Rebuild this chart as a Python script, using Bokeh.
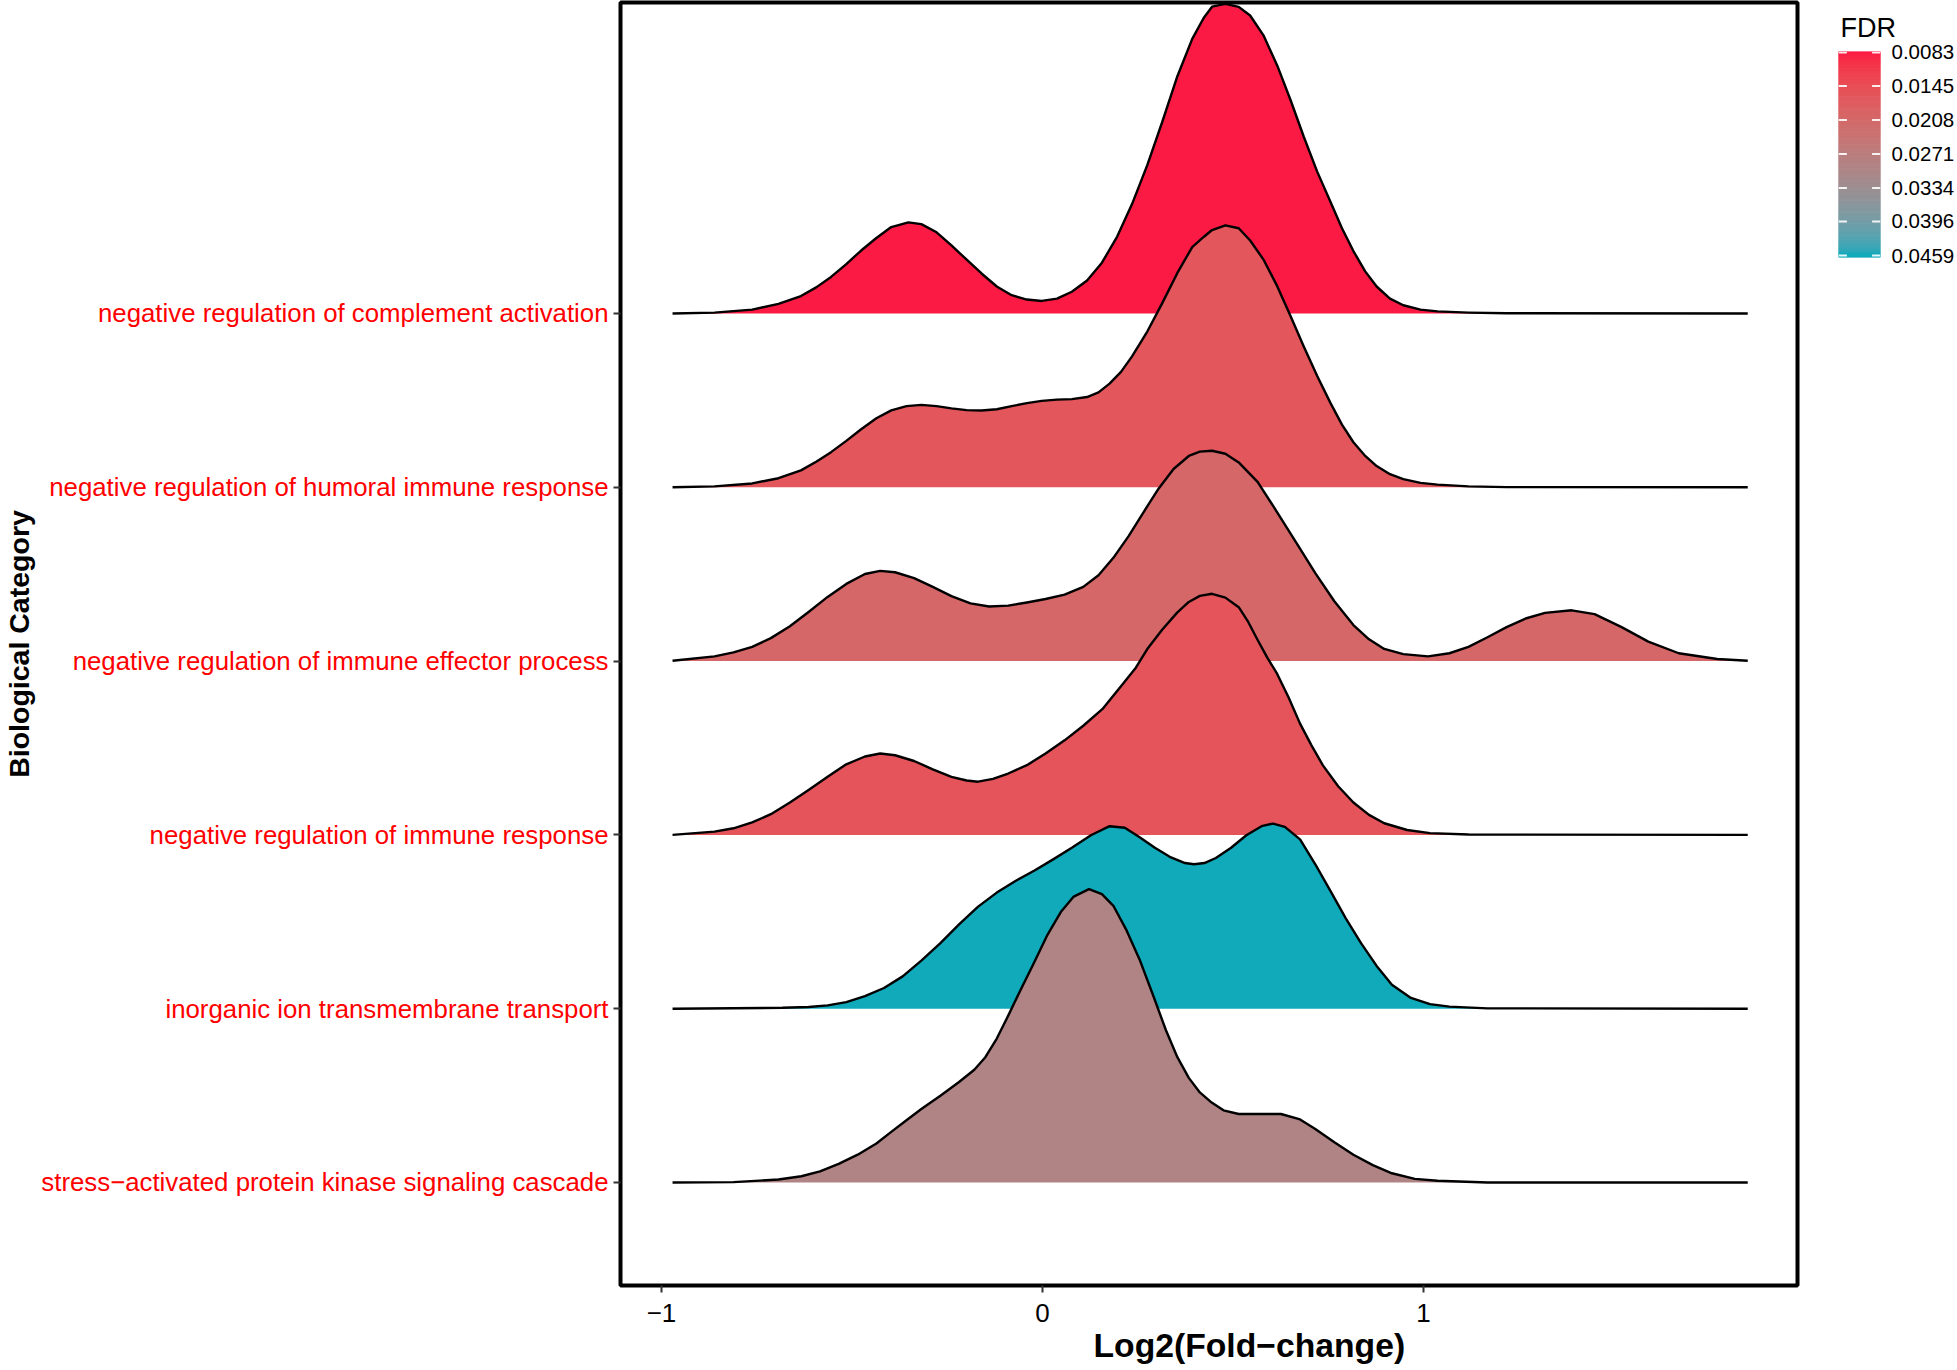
from bokeh.plotting import figure
from bokeh.layouts import row
from bokeh.models import Range1d, FixedTicker, LinearColorMapper, ColumnDataSource, Title
from bokeh.transform import linear_cmap
from bokeh.embed import file_html
from bokeh.resources import INLINE

# ---------------- data ----------------
categories = [
    "stress\u2212activated protein kinase signaling cascade",
    "inorganic ion transmembrane transport",
    "negative regulation of immune response",
    "negative regulation of immune effector process",
    "negative regulation of humoral immune response",
    "negative regulation of complement activation",
]
fdr = [0.0297, 0.0459, 0.0160, 0.0205, 0.0165, 0.0083]

x_stress = [-0.971, -0.811, -0.693, -0.633, -0.584, -0.535, -0.485, -0.436, -0.397, -0.357, -0.318,
            -0.268, -0.219, -0.179, -0.150, -0.120, -0.090, -0.056, -0.021, 0.013, 0.048, 0.082,
            0.122, 0.156, 0.186, 0.221, 0.255, 0.290, 0.324, 0.354, 0.384, 0.413, 0.441, 0.475,
            0.515, 0.565, 0.626, 0.676, 0.716, 0.766, 0.816, 0.867, 0.917, 0.977, 1.037, 1.168, 1.851]
h_stress = [0, 0.002, 0.017, 0.036, 0.064, 0.107, 0.16, 0.224, 0.291, 0.358, 0.423,
            0.499, 0.578, 0.649, 0.721, 0.828, 0.96, 1.115, 1.27, 1.425, 1.556, 1.645,
            1.688, 1.659, 1.592, 1.449, 1.282, 1.079, 0.876, 0.721, 0.602, 0.518, 0.465, 0.415,
            0.394, 0.394, 0.394, 0.363, 0.308, 0.232, 0.16, 0.1, 0.053, 0.021, 0.01, 0, 0]

x_ion = [-0.971, -0.683, -0.614, -0.564, -0.515, -0.466, -0.416, -0.367, -0.318, -0.268, -0.219,
         -0.169, -0.120, -0.071, -0.021, 0.028, 0.077, 0.127, 0.176, 0.216, 0.255, 0.295, 0.334,
         0.374, 0.398, 0.425, 0.455, 0.495, 0.535, 0.575, 0.605, 0.636, 0.676, 0.716, 0.756,
         0.796, 0.836, 0.877, 0.917, 0.967, 1.017, 1.068, 1.168, 1.851]
h_ion = [0, 0.005, 0.01, 0.019, 0.038, 0.072, 0.119, 0.186, 0.277, 0.377, 0.485,
         0.587, 0.668, 0.735, 0.795, 0.859, 0.926, 0.998, 1.05, 1.041, 0.986, 0.926, 0.874,
         0.838, 0.831, 0.838, 0.867, 0.926, 0.998, 1.05, 1.065, 1.046, 0.974, 0.831, 0.676,
         0.52, 0.377, 0.246, 0.138, 0.062, 0.026, 0.012, 0.002, 0]

x_immune = [-0.971, -0.861, -0.811, -0.762, -0.713, -0.663, -0.614, -0.564, -0.515, -0.466, -0.426,
            -0.387, -0.337, -0.288, -0.239, -0.199, -0.169, -0.130, -0.090, -0.041, 0.008, 0.058,
            0.107, 0.157, 0.206, 0.245, 0.275, 0.314, 0.354, 0.384, 0.413, 0.445, 0.480, 0.515,
            0.540, 0.565, 0.590, 0.616, 0.646, 0.676, 0.706, 0.736, 0.776, 0.816, 0.857, 0.897,
            0.957, 1.017, 1.118, 1.851]
h_immune = [0, 0.019, 0.038, 0.072, 0.119, 0.186, 0.258, 0.334, 0.406, 0.451, 0.468,
            0.458, 0.425, 0.377, 0.334, 0.313, 0.306, 0.322, 0.353, 0.401, 0.468, 0.544,
            0.628, 0.723, 0.855, 0.962, 1.069, 1.18, 1.28, 1.34, 1.375, 1.387, 1.365, 1.31,
            1.225, 1.12, 1.02, 0.926, 0.79, 0.64, 0.515, 0.40, 0.28, 0.186, 0.115, 0.067,
            0.028, 0.01, 0.002, 0]

x_effector = [-0.971, -0.861, -0.811, -0.762, -0.713, -0.663, -0.614, -0.564, -0.515, -0.466, -0.426,
              -0.387, -0.337, -0.288, -0.239, -0.189, -0.140, -0.090, -0.041, 0.008, 0.058, 0.107,
              0.147, 0.186, 0.226, 0.265, 0.305, 0.344, 0.384, 0.413, 0.445, 0.480, 0.515, 0.565,
              0.616, 0.666, 0.716, 0.766, 0.816, 0.857, 0.897, 0.947, 1.012, 1.068, 1.118, 1.168,
              1.218, 1.268, 1.319, 1.389, 1.449, 1.520, 1.590, 1.670, 1.771, 1.851]
h_effector = [0.002, 0.027, 0.05, 0.082, 0.132, 0.2, 0.282, 0.369, 0.444, 0.501, 0.519,
              0.511, 0.477, 0.427, 0.374, 0.332, 0.314, 0.319, 0.337, 0.357, 0.382, 0.427,
              0.494, 0.594, 0.719, 0.856, 0.993, 1.105, 1.18, 1.205, 1.21, 1.193, 1.143, 1.03,
              0.856, 0.681, 0.506, 0.344, 0.207, 0.125, 0.07, 0.04, 0.027, 0.045, 0.082, 0.137,
              0.195, 0.245, 0.277, 0.292, 0.27, 0.195, 0.112, 0.045, 0.012, 0.002]

x_humoral = [-0.971, -0.861, -0.762, -0.693, -0.634, -0.594, -0.555, -0.515, -0.476, -0.436, -0.397,
             -0.357, -0.318, -0.278, -0.239, -0.199, -0.160, -0.120, -0.081, -0.041, -0.002, 0.038,
             0.077, 0.117, 0.147, 0.176, 0.206, 0.235, 0.275, 0.314, 0.354, 0.393, 0.423, 0.445,
             0.480, 0.515, 0.545, 0.580, 0.616, 0.651, 0.686, 0.721, 0.756, 0.786, 0.816, 0.847,
             0.877, 0.912, 0.947, 0.992, 1.037, 1.118, 1.218, 1.851]
h_humoral = [0, 0.005, 0.022, 0.052, 0.097, 0.147, 0.202, 0.267, 0.334, 0.397, 0.442,
             0.467, 0.474, 0.467, 0.454, 0.444, 0.442, 0.449, 0.467, 0.484, 0.497, 0.504,
             0.507, 0.519, 0.546, 0.596, 0.664, 0.753, 0.896, 1.058, 1.233, 1.382, 1.44, 1.48,
             1.507, 1.49, 1.42, 1.31, 1.157, 0.985, 0.808, 0.64, 0.484, 0.36, 0.259, 0.18,
             0.122, 0.075, 0.047, 0.025, 0.015, 0.005, 0.001, 0]

x_complement = [-0.971, -0.861, -0.762, -0.693, -0.634, -0.594, -0.555, -0.515, -0.476, -0.436, -0.397,
                -0.352, -0.318, -0.278, -0.239, -0.199, -0.160, -0.120, -0.081, -0.041, -0.002, 0.038,
                0.077, 0.117, 0.156, 0.196, 0.235, 0.275, 0.314, 0.354, 0.393, 0.423, 0.445, 0.480,
                0.515, 0.545, 0.580, 0.616, 0.651, 0.686, 0.721, 0.756, 0.786, 0.816, 0.847, 0.877,
                0.912, 0.947, 0.992, 1.037, 1.118, 1.218, 1.851]
h_complement = [0, 0.005, 0.022, 0.055, 0.10, 0.15, 0.21, 0.284, 0.362, 0.434, 0.497,
                0.524, 0.514, 0.467, 0.392, 0.309, 0.23, 0.155, 0.105, 0.08, 0.072, 0.085,
                0.125, 0.19, 0.292, 0.442, 0.629, 0.853, 1.10, 1.365, 1.58, 1.70, 1.765, 1.781,
                1.764, 1.714, 1.60, 1.427, 1.228, 1.015, 0.816, 0.641, 0.49, 0.359, 0.242, 0.155,
                0.085, 0.047, 0.022, 0.012, 0.005, 0.001, 0]

ridge_x = [x_stress, x_ion, x_immune, x_effector, x_humoral, x_complement]
ridge_h = [h_stress, h_ion, h_immune, h_effector, h_humoral, h_complement]

x_ticks = [-1, 0, 1]
x_tick_labels = ["\u22121", "0", "1"]
fdr_ticks = [0.0083, 0.0145, 0.0208, 0.0271, 0.0334, 0.0396, 0.0459]
fdr_tick_labels = ["0.0083", "0.0145", "0.0208", "0.0271", "0.0334", "0.0396", "0.0459"]

# ---------------- colour gradient (CIELAB, like ggplot2) ----------------
LOW_COL = "#FB1A43"
HIGH_COL = "#10AABB"


def _lin(c):
    c = c / 255.0
    return c / 12.92 if c <= 0.04045 else ((c + 0.055) / 1.055) ** 2.4


def _delin(c):
    c = 12.92 * c if c <= 0.0031308 else 1.055 * max(c, 0) ** (1 / 2.4) - 0.055
    return max(0, min(255, round(c * 255)))


def hex_to_lab(hx):
    r, g, b = (_lin(int(hx[i:i + 2], 16)) for i in (1, 3, 5))
    X = (0.4124 * r + 0.3576 * g + 0.1805 * b) / 0.95047
    Y = 0.2126 * r + 0.7152 * g + 0.0722 * b
    Z = (0.0193 * r + 0.1192 * g + 0.9505 * b) / 1.08883
    f = lambda t: t ** (1 / 3) if t > 0.008856 else 7.787 * t + 16 / 116
    return 116 * f(Y) - 16, 500 * (f(X) - f(Y)), 200 * (f(Y) - f(Z))


def lab_to_hex(L, a, b):
    fy = (L + 16) / 116
    fx = fy + a / 500
    fz = fy - b / 200
    finv = lambda t: t ** 3 if t ** 3 > 0.008856 else (t - 16 / 116) / 7.787
    X, Y, Z = finv(fx) * 0.95047, finv(fy), finv(fz) * 1.08883
    r = 3.2406 * X - 1.5372 * Y - 0.4986 * Z
    g = -0.9689 * X + 1.8758 * Y + 0.0415 * Z
    bb = 0.0557 * X - 0.2040 * Y + 1.0570 * Z
    return "#%02X%02X%02X" % (_delin(r), _delin(g), _delin(bb))


l0, l1 = hex_to_lab(LOW_COL), hex_to_lab(HIGH_COL)
N = 256
palette = [lab_to_hex(*[l0[k] + (l1[k] - l0[k]) * i / (N - 1) for k in range(3)]) for i in range(N)]

fdr_min, fdr_max = min(fdr_ticks), max(fdr_ticks)
mapper = LinearColorMapper(palette=palette, low=fdr_min, high=fdr_max)

FONT = "Liberation Sans"

# ---------------- main ridgeline figure ----------------
p = figure(width=1810, height=1370, output_backend="svg", toolbar_location=None,
           x_range=Range1d(-1.1076, 1.9816), y_range=Range1d(0.4074, 7.789),
           min_border_left=620, min_border_right=13, min_border_top=2, min_border_bottom=85)
p.frame_align = False
p.background_fill_color = "white"
p.border_fill_color = "white"
p.outline_line_color = "black"
p.outline_line_width = 4
p.xgrid.visible = False
p.ygrid.visible = False

# ridges: top category first so lower ridges overlap it
for i in reversed(range(len(categories))):
    xs = ridge_x[i]
    base = i + 1
    top = [base + h for h in ridge_h[i]]
    poly_x = list(xs) + [xs[-1], xs[0]]
    poly_y = top + [base, base]
    src = ColumnDataSource(dict(xs=[poly_x], ys=[poly_y], fdr=[fdr[i]]))
    p.patches("xs", "ys", source=src, fill_color={"field": "fdr", "transform": mapper},
              line_color=None, fill_alpha=1.0)
    p.line(xs, top, line_color="black", line_width=2.4, line_join="round")

p.xaxis.ticker = FixedTicker(ticks=x_ticks)
p.xaxis.major_label_overrides = {t: l for t, l in zip(x_ticks, x_tick_labels)}
p.xaxis.major_label_text_color = "black"

y_ticks = list(range(1, len(categories) + 1))
p.yaxis.ticker = FixedTicker(ticks=y_ticks)
p.yaxis.major_label_overrides = {t: c for t, c in zip(y_ticks, categories)}
p.yaxis.axis_label = "Biological Category"
p.yaxis.major_label_text_color = "#FF0000"

for ax in (p.xaxis[0], p.yaxis[0]):
    ax.axis_line_color = None
    ax.minor_tick_line_color = None
    ax.minor_tick_out = 0
    ax.major_tick_in = 0
    ax.major_tick_out = 7
    ax.major_tick_line_color = "#333333"
    ax.major_tick_line_width = 2
    ax.major_label_text_font = FONT
    ax.axis_label_text_font = FONT
    ax.axis_label_text_font_style = "bold"
    ax.axis_label_text_color = "black"
    ax.axis_label_text_line_height = 1.0

p.xaxis.major_label_text_font_size = "26px"
p.xaxis.major_label_text_line_height = 1.0
p.xaxis.major_label_standoff = 11
p.yaxis.major_label_text_font_size = "25.8px"
p.yaxis.major_label_text_line_height = 1.0
p.yaxis.major_label_standoff = 5
p.yaxis.axis_label_text_font_size = "28.5px"
p.yaxis.axis_label_standoff = 3

# x-axis title, placed below the axis (offset to sit where the reference has it)
p.add_layout(Title(text="Log2(Fold\u2212change)", align="left", offset=473, standoff=2,
                   vertical_align="top", text_font=FONT, text_font_size="33.7px",
                   text_font_style="bold", text_color="black"), "below")

# ---------------- colour-bar legend ----------------
leg_lo, leg_hi = 0.008115, 0.04627          # values at the bar's top / bottom edge
leg = figure(width=147, height=1370, output_backend="svg", toolbar_location=None,
             x_range=Range1d(0, 1), y_range=Range1d(leg_hi, leg_lo),
             x_axis_location=None, y_axis_location="right",
             min_border_left=28, min_border_right=77, min_border_top=51, min_border_bottom=1113)
leg.frame_align = False
leg.outline_line_color = None
leg.xgrid.visible = False
leg.ygrid.visible = False
leg.background_fill_color = "white"
leg.border_fill_color = "white"

nb = 120
edges = [leg_lo + (leg_hi - leg_lo) * k / nb for k in range(nb + 1)]
bar_src = ColumnDataSource(dict(bottom=edges[:-1], top=edges[1:],
                                mid=[(a + b) / 2 for a, b in zip(edges[:-1], edges[1:])]))
leg.quad(left=0, right=1, bottom="bottom", top="top", source=bar_src,
         fill_color=linear_cmap("mid", palette, fdr_min, fdr_max),
         line_color=linear_cmap("mid", palette, fdr_min, fdr_max), line_width=1)
leg.segment(x0=[0] * len(fdr_ticks), x1=[0.2] * len(fdr_ticks), y0=fdr_ticks, y1=fdr_ticks,
            line_color="white", line_width=2, line_alpha=0.9)
leg.segment(x0=[0.8] * len(fdr_ticks), x1=[1] * len(fdr_ticks), y0=fdr_ticks, y1=fdr_ticks,
            line_color="white", line_width=2, line_alpha=0.9)

leg.yaxis.ticker = FixedTicker(ticks=fdr_ticks)
leg.yaxis.major_label_overrides = {t: l for t, l in zip(fdr_ticks, fdr_tick_labels)}
leg.yaxis.axis_line_color = None
leg.yaxis.major_tick_line_color = None
leg.yaxis.minor_tick_line_color = None
leg.yaxis.major_tick_out = 0
leg.yaxis.major_tick_in = 0
leg.yaxis.minor_tick_out = 0
leg.yaxis.minor_tick_in = 0
leg.yaxis.major_label_standoff = 11
leg.yaxis.major_label_text_font = FONT
leg.yaxis.major_label_text_font_size = "20.5px"
leg.yaxis.major_label_text_color = "black"

leg.title.text = "FDR"
leg.title.text_font = FONT
leg.title.text_font_size = "27px"
leg.title.text_font_style = "normal"
leg.title.text_color = "black"
leg.title.text_line_height = 1.0
leg.title.align = "left"
leg.title.offset = 2
leg.title.standoff = 18

layout = row(p, leg, spacing=0)
open("out.html", "w").write(file_html(layout, INLINE))
